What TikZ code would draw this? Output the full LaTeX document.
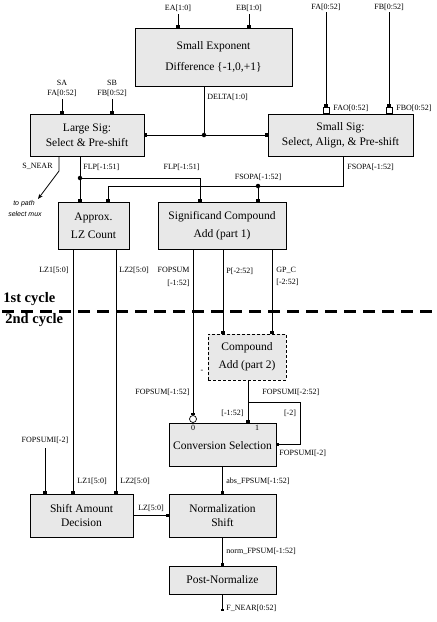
\documentclass[tikz,border=0pt]{standalone}
\usepackage{fontspec}
\setmainfont{Liberation Serif}
\newfontfamily\sansit{Liberation Sans}
\usetikzlibrary{arrows.meta}
\definecolor{boxgray}{RGB}{232,232,232}
\begin{document}
\begin{tikzpicture}[x=1pt,y=-1pt,line width=0.8pt,
  box/.style={draw,fill=boxgray,align=center,inner sep=0pt,font=\fontsize{11.5}{14}\selectfont},
  lbl/.style={inner sep=0pt,font=\fontsize{8}{9}\selectfont},
  cyc/.style={inner sep=0pt,anchor=west,font=\fontsize{14.5}{16}\selectfont\bfseries},
  arr/.style={-{Rectangle[length=2.5pt,width=3.5pt]}},
  jdot/.style={circle,fill,inner sep=0pt,minimum size=4.5pt},
  sq/.style={draw,fill=white,line width=0.7pt,inner sep=0pt,minimum size=6pt},
  bub/.style={circle,draw,fill=white,line width=0.7pt,inner sep=0pt,minimum size=7pt}]
\useasboundingbox (0,0) rectangle (437,622);

% boxes
\node[box,minimum width=157pt,minimum height=58pt] (sed) at (213.5,57) {Small Exponent\\[7pt]Difference \{-1,0,+1\}};
\node[box,minimum width=114pt,minimum height=42pt] (lsig) at (87,135) {Large Sig:\\[1pt]Select \& Pre-shift};
\node[box,minimum width=145pt,minimum height=42pt] (ssig) at (340.5,135) {Small Sig:\\[1pt]Select, Align, \& Pre-shift};
\node[box,minimum width=71pt,minimum height=47pt] (alz) at (93.5,225.5) {Approx.\\[4pt]LZ Count};
\node[box,minimum width=128pt,minimum height=47pt] (sca) at (222,225.5) {Significand Compound\\[4pt]Add (part 1)};
\node[box,dash pattern=on 3pt off 2pt,minimum width=78pt,minimum height=46pt] (ca2) at (247,357) {Compound\\[4pt]Add (part 2)};
\node[box,minimum width=107pt,minimum height=43pt] (conv) at (222.5,444.5) {\\[-4pt]Conversion Selection};
\node[box,minimum width=103pt,minimum height=43pt] (sad) at (81.5,515.5) {Shift Amount\\Decision};
\node[box,minimum width=107pt,minimum height=43pt] (norm) at (222.5,515.5) {Normalization\\Shift};
\node[box,minimum width=107pt,minimum height=28pt] (post) at (222.5,580) {Post-Normalize};

% helper coordinates
\coordinate (inEA) at (178,14);
\coordinate (inEB) at (249,14);
\coordinate (inSA) at (62,99);
\coordinate (inSB) at (112,99);
\coordinate (inFA) at (326,12);
\coordinate (inFB) at (389,12);
\coordinate (jD) at (204,135);
\coordinate (snB) at (59,171);
\coordinate (snE) at (38,199);
\coordinate (jF) at (80,178);
\coordinate (fR) at (200,178);
\coordinate (fsR) at (343,186);
\coordinate (fsL) at (108,186);
\coordinate (jS) at (258,186);
\coordinate (xL1) at (73,0);
\coordinate (xL2) at (116,0);
\coordinate (xFo) at (193,0);
\coordinate (xP) at (223,0);
\coordinate (xG) at (272,0);
\coordinate (sp) at (248,402);
\coordinate (spR) at (300,402);
\coordinate (inFI) at (45,448);
\coordinate (out) at (223,611);
\coordinate (cycL) at (2,311);
\coordinate (cycR) at (437,311);

% inputs
\draw[arr] (inEA) -- (inEA |- sed.north);
\draw[arr] (inEB) -- (inEB |- sed.north);
\draw[arr] (inSA) -- (inSA |- lsig.north);
\draw[arr] (inSB) -- (inSB |- lsig.north);
\node[sq,anchor=south] (sqA) at (inFA |- ssig.north) {};
\node[sq,anchor=south] (sqB) at (inFB |- ssig.north) {};
\draw[arr] (inFA) -- (sqA.north);
\draw[arr] (inFB) -- (sqB.north);

% delta
\draw (jD |- sed.south) -- (jD);
\draw[arr] (jD) -- (lsig.east);
\draw[arr] (jD) -- (ssig.west);
\node[jdot] (dD) at (jD) {};

% S_NEAR
\draw[-{Stealth[length=5pt,width=4pt]}] (snB |- lsig.south) -- (snB) -- (snE);

% FLP
\draw[arr] (jF |- lsig.south) -- (jF |- alz.north);
\draw[arr] (jF) -- (fR) -- (fR |- sca.north);
\node[jdot] (dF) at (jF) {};

% FSOPA
\draw[arr] (fsR |- ssig.south) -- (fsR) -- (fsL) -- (fsL |- alz.north);
\draw[arr] (jS) -- (jS |- sca.north);
\node[jdot] (dS) at (jS) {};

% LZ
\draw[arr] (xL1 |- alz.south) -- (xL1 |- sad.north);
\draw[arr] (xL2 |- alz.south) -- (xL2 |- sad.north);

% adder outputs
\node[bub] (bub) at (193,419) {};
\draw[arr] (xFo |- sca.south) -- (bub.north);
\draw[arr] (xP |- sca.south) -- (xP |- ca2.north);
\draw[arr] (xG |- sca.south) -- (xG |- ca2.north);
\draw[arr] (sp |- ca2.south) -- (sp) -- (spR) -- (spR |- conv.east) -- (conv.east);
\draw[arr] (sp) -- (sp |- conv.north);

% second cycle
\draw[arr] (inFI) -- (inFI |- sad.north);
\draw[arr] (conv.south) -- (norm.north);
\draw[arr] (sad.east) -- (norm.west);
\draw[arr] (norm.south) -- (post.north);
\draw[arr] (post.south) -- (post.south |- out);

% cycle divider
\draw[line width=3pt,dash pattern=on 12pt off 7pt] (cycL) -- (cycR);
\node[cyc] (c1) at (3,299) {1st cycle};
\node[cyc] (c2) at (5,320) {2nd cycle};

% labels
\node[lbl] (tEA) at (178,8) {EA[1:0]};
\node[lbl] (tEB) at (249,8) {EB[1:0]};
\node[lbl] (tFA) at (326,7) {FA[0:52]};
\node[lbl] (tFB) at (389,7) {FB[0:52]};
\node[lbl] (tSA) at (62,83) {SA};
\node[lbl] (tSA2) at (62,93) {FA[0:52]};
\node[lbl] (tSB) at (112,83) {SB};
\node[lbl] (tSB2) at (112,93) {FB[0:52]};
\node[lbl,anchor=west] (tDL) at (207,97) {DELTA[1:0]};
\node[lbl,anchor=west] (tFAO) at (333,108) {FAO[0:52]};
\node[lbl,anchor=west] (tFBO) at (396,108) {FBO[0:52]};
\node[lbl,anchor=east] (tSN) at (53,166) {S\_NEAR};
\node[lbl,anchor=west] (tFLP1) at (83,167) {FLP[-1:51]};
\node[lbl,anchor=east] (tFLP2) at (200,167) {FLP[-1:51]};
\node[lbl,anchor=west] (tFS1) at (347,167) {FSOPA[-1:52]};
\node[lbl] (tFS2) at (258,177) {FSOPA[-1:52]};
\node[inner sep=0pt,font=\fontsize{7}{8}\sansit\itshape] (tMx1) at (24,204) {to path};
\node[inner sep=0pt,font=\fontsize{7}{8}\sansit\itshape] (tMx2) at (25,214) {select mux};
\node[lbl,anchor=east] (tLZ1a) at (69,270) {LZ1[5:0]};
\node[lbl,anchor=west] (tLZ2a) at (119,270) {LZ2[5:0]};
\node[lbl,anchor=east] (tFo1) at (190,270) {FOPSUM};
\node[lbl,anchor=east] (tFo2) at (190,283) {[-1:52]};
\node[lbl,anchor=west] (tP) at (226,271) {P[-2:52]};
\node[lbl,anchor=west] (tG1) at (276,270) {GP\_C};
\node[lbl,anchor=west] (tG2) at (276,282) {[-2:52]};
\node[lbl,anchor=east] (tFo3) at (190,392) {FOPSUM[-1:52]};
\node[lbl] (tdot) at (202,371) {-};
\node[lbl,anchor=west] (tFI1) at (262,392) {FOPSUMI[-2:52]};
\node[lbl,anchor=east] (tM1) at (244,413) {[-1:52]};
\node[lbl] (tM2) at (290,413) {[-2]};
\node[lbl] (t0) at (193,428) {0};
\node[lbl] (t1) at (257,428) {1};
\node[lbl,anchor=west] (tFI2) at (279,453) {FOPSUMI[-2]};
\node[lbl] (tFI3) at (45,440) {FOPSUMI[-2]};
\node[lbl,anchor=west] (tABS) at (226,481) {abs\_FPSUM[-1:52]};
\node[lbl,anchor=west] (tLZ1b) at (77,481) {LZ1[5:0]};
\node[lbl,anchor=west] (tLZ2b) at (120,481) {LZ2[5:0]};
\node[lbl] (tLZ) at (151,508) {LZ[5:0]};
\node[lbl,anchor=west] (tNF) at (226,551) {norm\_FPSUM[-1:52]};
\node[lbl,anchor=west] (tFN) at (226,608) {F\_NEAR[0:52]};
\end{tikzpicture}
\end{document}
